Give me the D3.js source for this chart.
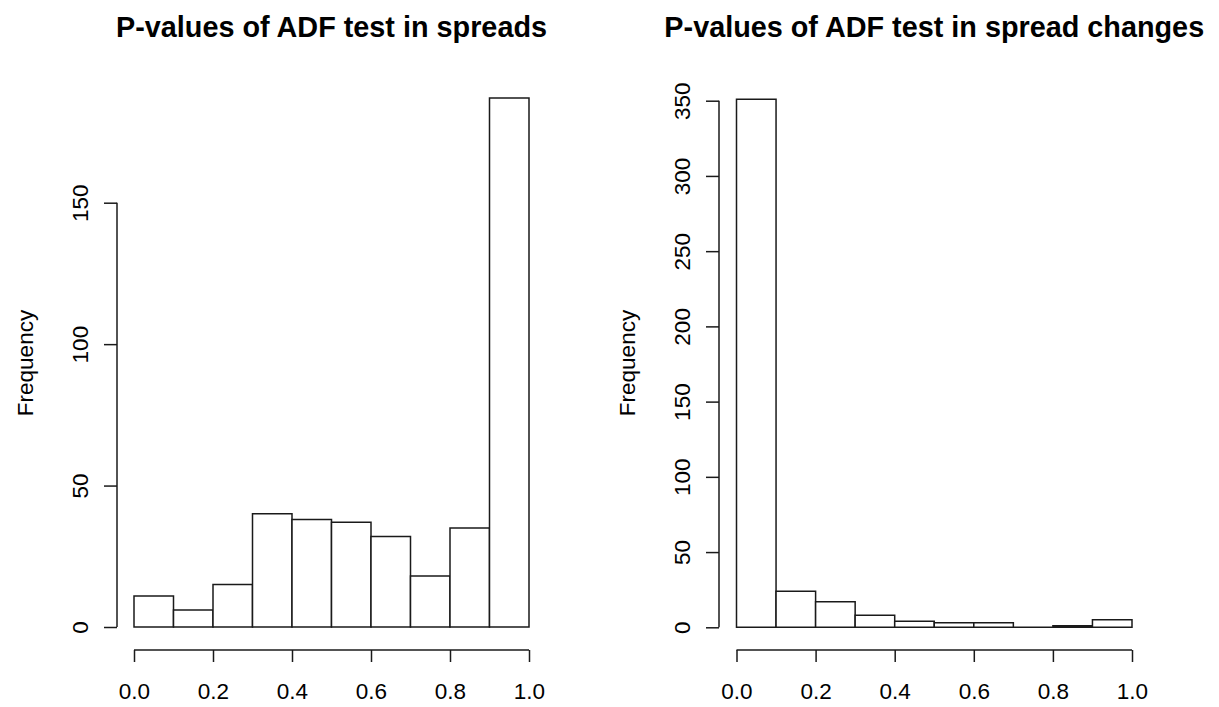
<!DOCTYPE html>
<html lang="en">
<head>
    <meta charset="UTF-8">
    <title>ADF p-values</title>
    <script src="https://cdn.jsdelivr.net/npm/d3@7/dist/d3.min.js"></script>
    <style>
        body, html {
            margin: 0;
            padding: 0;
            background: #fff;
            overflow: hidden;
        }
        svg {
            display: block;
            font-family: 'Liberation Sans', Arial, sans-serif;
        }
    </style>
</head>
<body>
    <svg id="mainsvg"></svg>
    <script>
        // bin edges shared by both histograms
        const binEdges = [0, 0.1, 0.2, 0.3, 0.4, 0.5, 0.6, 0.7, 0.8, 0.9, 1.0];
        const xTicks = [0, 0.2, 0.4, 0.6, 0.8, 1.0];

        // left: p-values in spreads
        const spreadsCounts = [11, 6, 15, 40, 38, 37, 32, 18, 35, 187];
        const spreadsYTicks = [0, 50, 100, 150];

        // right: p-values in spread changes
        const changesCounts = [351, 24, 17, 8, 4, 3, 3, 0, 1, 5];
        const changesYTicks = [0, 50, 100, 150, 200, 250, 300, 350];

        const width = 1219, height = 707;
        const svg = d3.select('#mainsvg').attr('width', width).attr('height', height);

        const lineColor = '#1a1a1a';

        function drawHist(opts) {
            const g = svg.append('g');

            const xScale = d3.scaleLinear().domain([0, 1]).range([opts.x0, opts.x1]);
            const yScale = d3.scaleLinear()
                .domain([0, opts.yTicks[opts.yTicks.length - 1]])
                .range([opts.yBase, opts.yTop]);

            const bins = opts.counts.map((c, i) => ({ lo: binEdges[i], hi: binEdges[i + 1], n: c }));

            // paths instead of rects so an empty bin still shows its outline
            g.selectAll('path.bar').data(bins).enter().append('path')
                .attr('class', 'bar')
                .attr('d', d => `M${xScale(d.lo)},${yScale(0)}H${xScale(d.hi)}V${yScale(d.n)}H${xScale(d.lo)}Z`)
                .attr('fill', '#fff')
                .attr('stroke', lineColor)
                .attr('stroke-width', 1.5);

            // x axis (R style: line only between first and last tick)
            const xAxis = d3.axisBottom(xScale).tickValues(xTicks)
                .tickFormat(d3.format('.1f')).tickSize(12).tickPadding(21);
            const xg = g.append('g')
                .attr('transform', `translate(0, ${opts.xAxisY})`)
                .call(xAxis);
            xg.select('.domain').remove();
            xg.append('line')
                .attr('x1', xScale(xTicks[0])).attr('x2', xScale(xTicks[xTicks.length - 1]))
                .attr('stroke', lineColor).attr('stroke-width', 1.5);

            // y axis
            const yAxis = d3.axisLeft(yScale).tickValues(opts.yTicks).tickSize(13);
            const yg = g.append('g')
                .attr('transform', `translate(${opts.yAxisX}, 0)`)
                .call(yAxis);
            yg.select('.domain').remove();
            yg.append('line')
                .attr('y1', yScale(opts.yTicks[0])).attr('y2', yScale(opts.yTicks[opts.yTicks.length - 1]))
                .attr('stroke', lineColor).attr('stroke-width', 1.5);
            yg.selectAll('.tick text')
                .attr('transform', 'rotate(-90)')
                .attr('x', 0)
                .attr('y', -29)
                .attr('dy', 0)
                .attr('text-anchor', 'middle');

            [xg, yg].forEach(a => {
                a.selectAll('.tick line').attr('stroke', lineColor).attr('stroke-width', 1.5);
                a.selectAll('.tick text').attr('fill', '#000').attr('font-size', '22.5px')
                    .attr('font-family', "'Liberation Sans', Arial, sans-serif");
            });

            // y label, centred on the plot region
            g.append('text')
                .attr('transform', `translate(${opts.yAxisX - 84}, 363) rotate(-90)`)
                .attr('text-anchor', 'middle')
                .attr('font-size', '22.5px')
                .attr('fill', '#000')
                .text('Frequency');

            // title
            g.append('text')
                .attr('x', (opts.x0 + opts.x1) / 2)
                .attr('y', 37)
                .attr('text-anchor', 'middle')
                .attr('font-size', '28.8px')
                .attr('font-weight', 'bold')
                .attr('fill', '#000')
                .text(opts.title);
        }

        drawHist({
            counts: spreadsCounts, yTicks: spreadsYTicks,
            x0: 134, x1: 529, yBase: 627, yTop: 202.7,
            xAxisY: 650, yAxisX: 117,
            title: 'P-values of ADF test in spreads'
        });

        drawHist({
            counts: changesCounts, yTicks: changesYTicks,
            x0: 736.5, x1: 1132, yBase: 627.3, yTop: 100.7,
            xAxisY: 650, yAxisX: 719,
            title: 'P-values of ADF test in spread changes'
        });
    </script>
</body>
</html>
